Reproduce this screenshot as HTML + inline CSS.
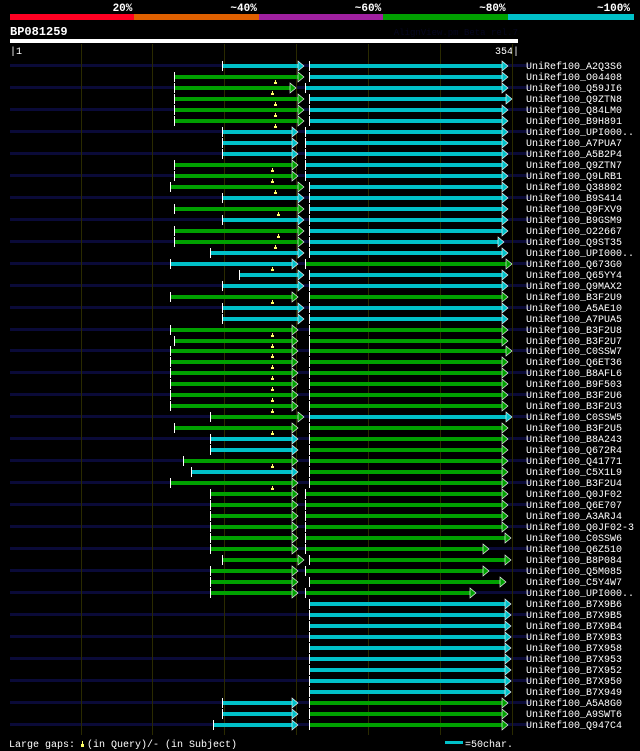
<!DOCTYPE html>
<html><head><meta charset="utf-8"><style>
html,body{margin:0;padding:0;background:#000;}
svg{display:block;}
text{font-family:"Liberation Mono",monospace;}
</style></head><body>
<svg id="chart" width="640" height="751" xmlns="http://www.w3.org/2000/svg" shape-rendering="crispEdges">
<rect width="640" height="751" fill="#000"/>
</svg>
<script>
const names=["A2Q3S6","O04408","Q59JI6","Q9ZTN8","Q84LM0","B9H891","UPI000..","A7PUA7","A5B2P4","Q9ZTN7","Q9LRB1","Q38802","B9S414","Q9FXV9","B9GSM9","O22667","Q9ST35","UPI000..","Q673G0","Q65YY4","Q9MAX2","B3F2U9","A5AE10","A7PUA5","B3F2U8","B3F2U7","C0SSW7","Q6ET36","B8AFL6","B9F503","B3F2U6","B3F2U3","C0SSW5","B3F2U5","B8A243","Q672R4","Q41771","C5X1L9","B3F2U4","Q0JF02","Q6E707","A3ARJ4","Q0JF02-3","C0SSW6","Q6Z510","B8P084","Q5M085","C5Y4W7","UPI000..","B7X9B6","B7X9B5","B7X9B4","B7X9B3","B7X958","B7X953","B7X952","B7X950","B7X949","A5A8G0","A9SWT6","Q947C4"];
const seg1Start=[148,115,115,115,115,115,148,148,148,115,115,112,148,115,148,115,115,140,112,160,148,112,148,148,112,115,112,112,112,112,112,112,140,115,140,140,121,127,112,140,140,140,140,140,140,148,140,140,140,0,0,0,0,0,0,0,0,0,148,148,142];
const seg1End=[205,205,200,205,205,205,201,201,201,201,201,205,205,205,205,205,205,205,201,205,205,201,205,205,201,201,201,201,201,201,201,201,205,201,201,201,201,201,201,201,201,201,201,201,201,205,201,201,201,0,0,0,0,0,0,0,0,0,201,201,201];
const seg1Color=["c","g","g","g","g","g","c","c","c","g","g","g","c","g","c","g","g","c","c","c","c","g","c","c","g","g","g","g","g","g","g","g","g","g","c","c","g","c","g","g","g","g","g","g","g","g","g","g","g","","","","","","","","","","c","c","c"];
const seg2Start=[209,209,206,209,209,209,206,206,206,206,206,209,209,209,209,209,209,209,206,209,209,209,209,209,209,209,209,209,209,209,209,209,209,209,209,209,209,209,209,206,206,206,206,206,206,209,206,209,206,209,209,209,209,209,209,209,209,209,209,209,209];
const seg2End=[347,347,347,350,347,347,347,347,347,347,347,347,347,347,347,347,344,347,350,347,347,347,347,347,347,347,350,347,347,347,347,347,350,347,347,347,347,347,347,347,347,347,347,349,334,349,334,346,325,349,349,349,349,349,349,349,349,349,347,347,347];
const seg2Color=["c","c","c","c","c","c","c","c","c","c","c","c","c","c","c","c","c","c","g","c","c","g","c","c","g","g","g","g","g","g","g","g","c","g","g","g","g","g","g","g","g","g","g","g","g","g","g","g","g","c","c","c","c","c","c","c","c","c","g","g","g"];
const gapMark=[0,185,183,185,185,185,0,0,0,183,183,185,0,187,0,187,185,0,183,0,0,183,0,0,183,183,183,183,183,183,183,183,0,183,0,0,183,0,183,0,0,0,0,0,0,0,0,0,0,0,0,0,0,0,0,0,0,0,0,0,0];
const pctLabels=["20%","~40%","~60%","~80%","~100%"];
const pctColors=["#ff0022","#e06000","#a020a0","#00a000","#00c0c8"];
const gridTicks=[50,100,150,200,250,300,350];
const qLen=354;

const NS="http://www.w3.org/2000/svg";
const svg=document.getElementById('chart');
const X0=10,X1=518;
const xs=r=>Math.round(X0+(r-1)*(X1-X0)/(qLen-1));
const ys=i=>Math.round(65+i*10.98);
const COL={c:"#00c0c8",g:"#00a000"};
function mk(tag,attrs,parent){const e=document.createElementNS(NS,tag);for(const k in attrs)e.setAttribute(k,attrs[k]);(parent||svg).appendChild(e);return e;}

const segW=(632-10)/pctLabels.length;
pctLabels.forEach((l,i)=>{
  const r=mk('rect',{x:Math.round(10+i*segW),y:14,width:Math.ceil(segW)+1,height:6,fill:pctColors[i]});
  
  
  const t=mk('text',{x:10+(i+1)*segW-2,y:11,fill:'#fff','font-size':11,'font-weight':'bold','text-anchor':'end'});
  t.textContent=l;
  
  
});
let t=mk('text',{x:10,y:35,fill:'#fff','font-size':12,'font-weight':'bold'});t.textContent='BP081259';

t=mk('text',{x:518,y:35,fill:'#060620','font-size':9,'text-anchor':'end'});t.textContent='AlignView.pm Beta rel.7';

let r=mk('rect',{x:X0,y:39,width:X1-X0,height:4,fill:'#fff'});

t=mk('text',{x:10,y:54,fill:'#fff','font-size':10});t.textContent='|1';

t=mk('text',{x:519,y:54,fill:'#fff','font-size':10,'text-anchor':'end'});t.textContent='354|';


names.forEach((n,i)=>{
  if(i%2===0){const s=mk('rect',{x:X0,y:ys(i)-1,width:520,height:3,fill:'#0a0a38'});
  }
});
gridTicks.forEach(g=>{
  const l=mk('rect',{x:xs(g),y:44,width:1,height:691,fill:'#2a2a00'});
  
});

function segment(i,s,e,c){
  const y=ys(i);
  const g=mk('g',{});
  
  
  const xa=xs(s),xb=xs(e);
  mk('rect',{x:xa,y:y-1,width:xb-xa-5,height:4,fill:COL[c]},g);
  mk('rect',{x:xa,y:y-4,width:1,height:10,fill:'#fff'},g);
  mk('polygon',{points:`${xb-6},${y-4} ${xb},${y+1} ${xb-6},${y+6}`,fill:COL[c],stroke:'#fff','stroke-width':0.6,'shape-rendering':'auto'},g);
  svg.appendChild(g);
}
names.forEach((n,i)=>{
  if(seg1Start[i]>0)segment(i,seg1Start[i],seg1End[i],seg1Color[i]);
  segment(i,seg2Start[i],seg2End[i],seg2Color[i]);
  if(gapMark[i]>0){
    const m=mk('path',{d:`M${xs(gapMark[i])-1},${ys(i)+6}h3v2h-3z M${xs(gapMark[i])},${ys(i)+4}h1v2h-1z`,fill:'#ffff66'});
    
  }
  const lb=mk('text',{x:526,y:ys(i)+4,fill:'#fff','font-size':10});
  lb.textContent='UniRef100_'+n;
  
  
});
t=mk('text',{x:9,y:747,fill:'#fff','font-size':10});t.textContent='Large gaps:\u00A0\u00A0(in Query)/- (in Subject)';

r=mk('path',{d:'M81,744h3v3h-3z M82,741h1v3h-1z',fill:'#ffff66'});

r=mk('rect',{x:445,y:741,width:18,height:3,fill:'#00c0c8'});

t=mk('text',{x:465,y:747,fill:'#fff','font-size':10});t.textContent='=50char.';

</script>
</body></html>
